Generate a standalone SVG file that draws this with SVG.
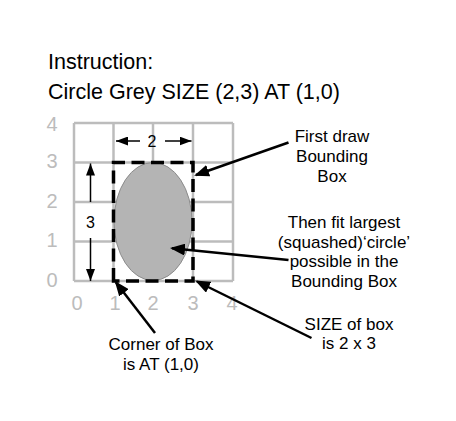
<svg xmlns="http://www.w3.org/2000/svg" width="456" height="421" viewBox="0 0 456 421">
<style>
text{font-family:"Liberation Sans",Arial,sans-serif;fill:#000}
.title{font-size:21.5px}
.lbl{font-size:17px;text-anchor:middle}
.ax{font-size:20px;fill:#bcbcbc;text-anchor:middle}
.dim{font-size:16px;text-anchor:middle}
.grid line{stroke:#bcbcbc;stroke-width:2.5}
.big{stroke:#000;stroke-width:2.5;fill:none;marker-end:url(#ah)}
.sm{stroke:#000;stroke-width:1.5;fill:none;marker-end:url(#as)}
</style>
<defs>
<marker id="ah" markerUnits="userSpaceOnUse" markerWidth="16" markerHeight="12" refX="13" refY="6" orient="auto"><path d="M0,0 L15,6 L0,12 z" fill="#000"/></marker>
<marker id="as" markerUnits="userSpaceOnUse" markerWidth="13" markerHeight="9" refX="12" refY="4.5" orient="auto"><path d="M0,0 L12,4.5 L0,9 z" fill="#000"/></marker>
</defs>
<rect width="456" height="421" fill="#fff"/>
<g id="title">
<text class="title" x="48" y="69">Instruction:</text>
<text class="title" x="48" y="99">Circle Grey SIZE (2,3) AT (1,0)</text>
</g>
<g id="grid" class="grid">
<line x1="74" y1="123" x2="74" y2="281"/>
<line x1="113.5" y1="123" x2="113.5" y2="281"/>
<line x1="153" y1="123" x2="153" y2="281"/>
<line x1="193" y1="123" x2="193" y2="281"/>
<line x1="233" y1="123" x2="233" y2="281"/>
<line x1="74" y1="123" x2="233" y2="123"/>
<line x1="74" y1="162.5" x2="233" y2="162.5"/>
<line x1="74" y1="202" x2="233" y2="202"/>
<line x1="74" y1="241.5" x2="233" y2="241.5"/>
<line x1="74" y1="281" x2="233" y2="281"/>
</g>
<g id="axis-labels">
<text class="ax" x="52" y="131">4</text>
<text class="ax" x="52" y="168">3</text>
<text class="ax" x="52" y="207.5">2</text>
<text class="ax" x="52" y="247">1</text>
<text class="ax" x="52" y="286.5">0</text>
<text class="ax" x="77" y="309.5">0</text>
<text class="ax" x="115" y="309.5">1</text>
<text class="ax" x="153" y="309.5">2</text>
<text class="ax" x="193" y="309.5">3</text>
<text class="ax" x="232" y="309.5">4</text>
</g>
<g id="ellipse">
<ellipse cx="153" cy="221.5" rx="39" ry="59" fill="#b4b4b4" stroke="#8c8c8c" stroke-width="1"/>
</g>
<g id="bounding-box">
<path d="M113.5,281 V162.5 H193 V281 Z" fill="none" stroke="#000" stroke-width="3.5" stroke-dasharray="13 6.5"/>
</g>
<g id="dim-labels">
<text class="dim" x="152" y="147">2</text>
<text class="dim" x="90.5" y="228">3</text>
</g>
<g id="text-first">
<text class="lbl" x="332" y="142">First draw</text>
<text class="lbl" x="332" y="162">Bounding</text>
<text class="lbl" x="332" y="182">Box</text>
</g>
<g id="text-fit">
<text class="lbl" x="344" y="228">Then fit largest</text>
<text class="lbl" x="344" y="247.5">(squashed)‘circle’</text>
<text class="lbl" x="344" y="267">possible in the</text>
<text class="lbl" x="344" y="286.5">Bounding Box</text>
</g>
<g id="text-size">
<text class="lbl" x="349" y="330">SIZE of box</text>
<text class="lbl" x="349" y="349">is 2 x 3</text>
</g>
<g id="text-corner">
<text class="lbl" x="161" y="350">Corner of Box</text>
<text class="lbl" x="161" y="369.5">is AT (1,0)</text>
</g>
<g id="connectors">
<line class="sm" x1="140" y1="141" x2="116" y2="141"/>
<line class="sm" x1="165" y1="141" x2="191.5" y2="141"/>
<line class="sm" x1="90.5" y1="202" x2="90.5" y2="163.5"/>
<line class="sm" x1="90.5" y1="238" x2="90.5" y2="281"/>
<line class="big" x1="288.5" y1="142.5" x2="196" y2="175"/>
<line class="big" x1="288.5" y1="260" x2="172" y2="248.3"/>
<line class="big" x1="311.5" y1="338" x2="197" y2="281.5"/>
<line class="big" x1="155" y1="333" x2="116" y2="282.5"/>
</g>
</svg>
